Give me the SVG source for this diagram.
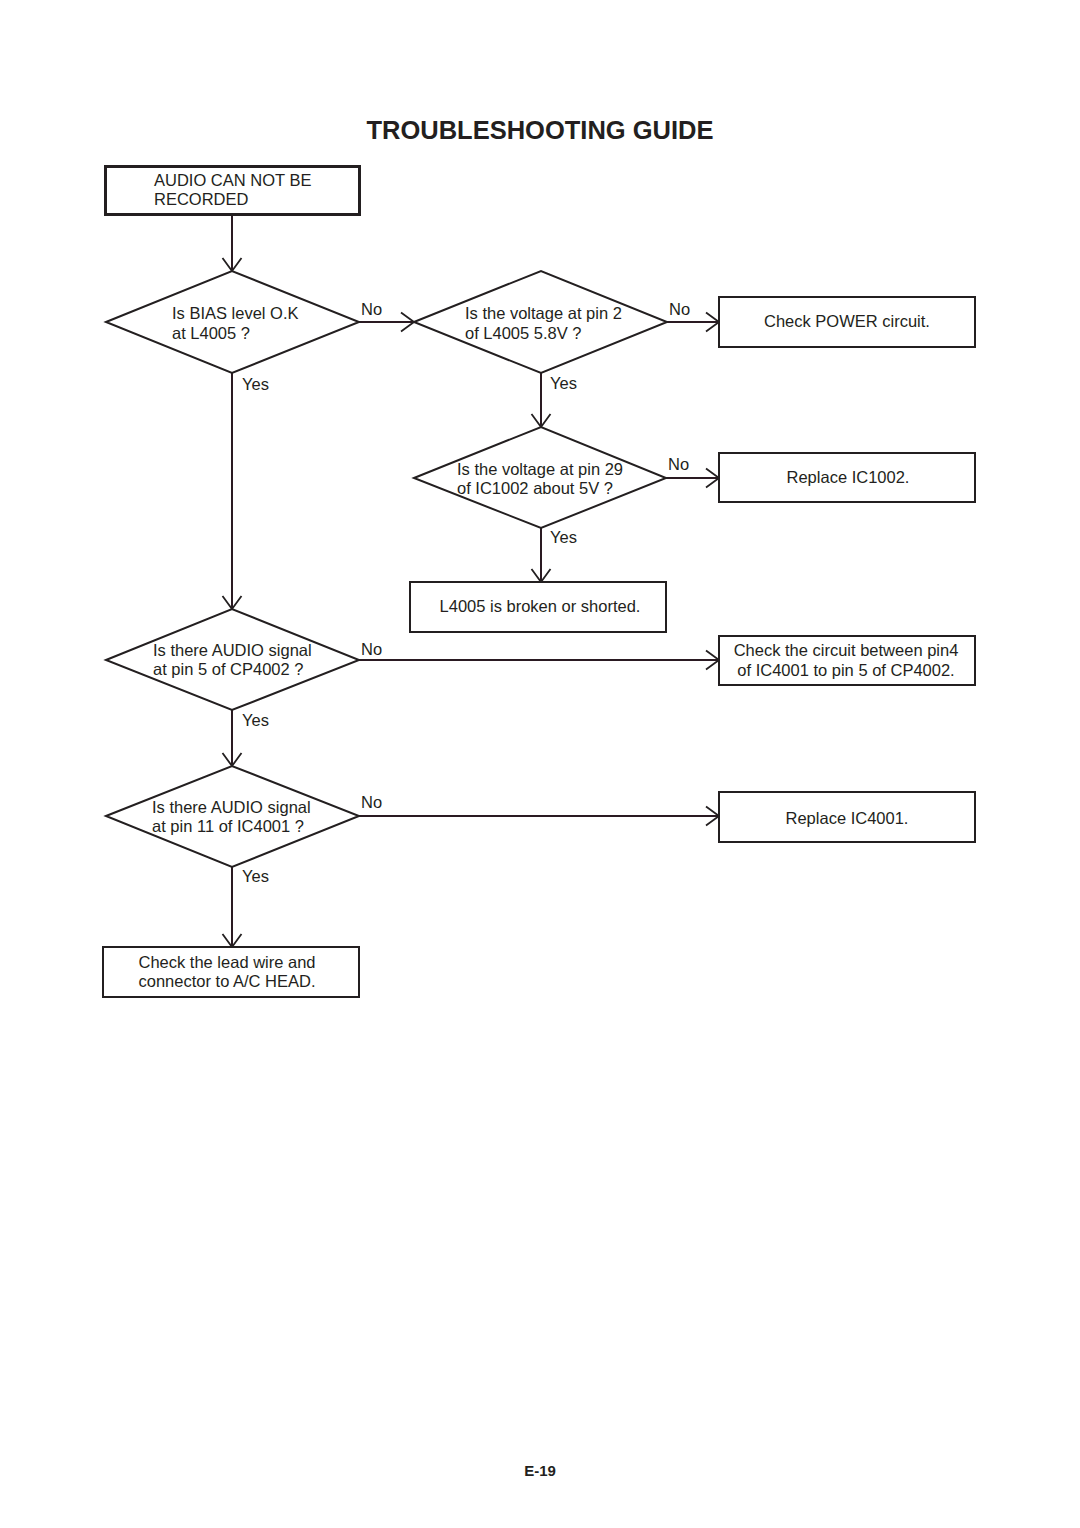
<svg xmlns="http://www.w3.org/2000/svg" width="1080" height="1528" viewBox="0 0 1080 1528">
<style>
text{font-family:"Liberation Sans",Arial,sans-serif;font-size:16.5px;fill:#231f20}
.t{font-size:25.5px;font-weight:bold}
.f{font-size:15px;font-weight:bold}
.m{text-anchor:middle}
.s{fill:#fff;stroke:#231f20;stroke-width:2}
.c{fill:none;stroke:#2a1a22;stroke-width:2;marker-end:url(#arr)}
</style>
<defs>
<marker id="arr" markerWidth="16" markerHeight="22" refX="14" refY="11" orient="auto" markerUnits="userSpaceOnUse">
<path d="M1,1.5 L14,11 L1,20.5" fill="none" stroke="#231f20" stroke-width="1.8"/>
</marker>
</defs>
<rect width="1080" height="1528" fill="#fff"/>
<text class="t m" x="540" y="139">TROUBLESHOOTING GUIDE</text>

<g id="connectors">
<path class="c" d="M232,214 V271"/>
<path class="c" d="M359,322 H414"/>
<path class="c" d="M667,322 H719"/>
<path class="c" d="M541,373 V427"/>
<path class="c" d="M666,478 H719"/>
<path class="c" d="M541,528 V582"/>
<path class="c" d="M232,373 V609"/>
<path class="c" d="M359,660 H719"/>
<path class="c" d="M232,710 V766"/>
<path class="c" d="M359,816 H719"/>
<path class="c" d="M232,867 V947"/>
<text x="361" y="315">No</text>
<text x="669" y="315">No</text>
<text x="550" y="389">Yes</text>
<text x="242" y="390">Yes</text>
<text x="668" y="470">No</text>
<text x="550" y="543">Yes</text>
<text x="361" y="655">No</text>
<text x="242" y="726">Yes</text>
<text x="361" y="808">No</text>
<text x="242" y="882">Yes</text>
</g>

<g id="start">
<rect x="105.5" y="166.5" width="254" height="48" fill="#fff" stroke="#231f20" stroke-width="3"/>
<text x="154" y="186">AUDIO CAN NOT BE</text>
<text x="154" y="205">RECORDED</text>
</g>

<g id="d1">
<polygon class="s" points="106,322 232,271 359,322 232,373"/>
<text x="172" y="319">Is BIAS level O.K</text>
<text x="172" y="339">at L4005 ?</text>
</g>

<g id="d2">
<polygon class="s" points="414,322 541,271 667,322 541,373"/>
<text x="465" y="319">Is the voltage at pin 2</text>
<text x="465" y="339">of L4005 5.8V ?</text>
</g>

<g id="b_power">
<rect class="s" x="719" y="297" width="256" height="50"/>
<text class="m" x="847" y="327">Check POWER circuit.</text>
</g>

<g id="d3">
<polygon class="s" points="414,478 541,427 666,478 541,528"/>
<text x="457" y="475">Is the voltage at pin 29</text>
<text x="457" y="494">of IC1002 about 5V ?</text>
</g>

<g id="b_ic1002">
<rect class="s" x="719" y="453" width="256" height="49"/>
<text class="m" x="848" y="483">Replace IC1002.</text>
</g>

<g id="b_l4005">
<rect class="s" x="410" y="582" width="256" height="50"/>
<text class="m" x="540" y="612">L4005 is broken or shorted.</text>
</g>

<g id="d4">
<polygon class="s" points="106,660 232,609 359,660 232,710"/>
<text x="153" y="656">Is there AUDIO signal</text>
<text x="153" y="675">at pin 5 of CP4002 ?</text>
</g>

<g id="b_circuit">
<rect class="s" x="719" y="636" width="256" height="49"/>
<text class="m" x="846" y="656">Check the circuit between pin4</text>
<text class="m" x="846" y="676">of IC4001 to pin 5 of CP4002.</text>
</g>

<g id="d5">
<polygon class="s" points="106,816 232,766 359,816 232,867"/>
<text x="152" y="813">Is there AUDIO signal</text>
<text x="152" y="832">at pin 11 of IC4001 ?</text>
</g>

<g id="b_ic4001">
<rect class="s" x="719" y="792" width="256" height="50"/>
<text class="m" x="847" y="824">Replace IC4001.</text>
</g>

<g id="b_lead">
<rect class="s" x="103" y="947" width="256" height="50"/>
<text class="m" x="227" y="968">Check the lead wire and</text>
<text class="m" x="227" y="987">connector to A/C HEAD.</text>
</g>

<text class="f m" x="540" y="1476">E-19</text>
</svg>
